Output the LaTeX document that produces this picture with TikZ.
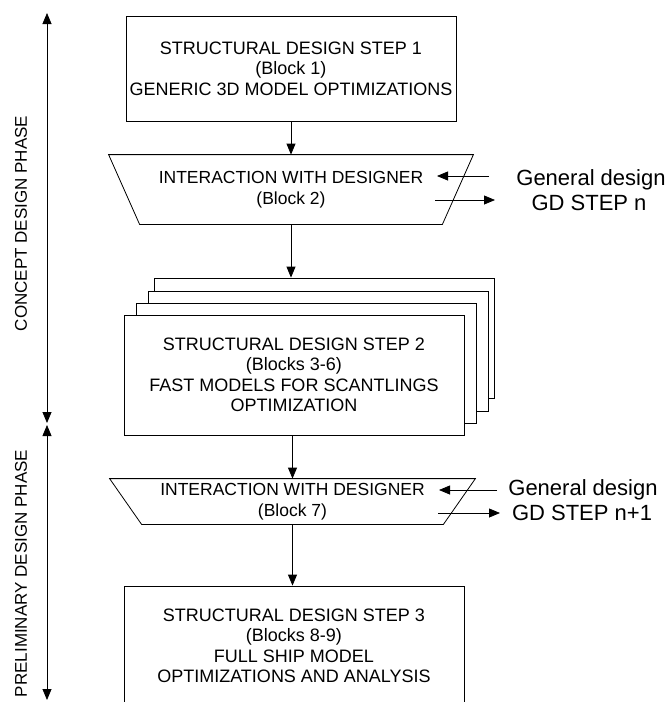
\documentclass[tikz,border=0pt]{standalone}
\usepackage{fontspec}
\setmainfont{Liberation Sans}
\usepackage{tikz}
\usetikzlibrary{positioning}
\usetikzlibrary{calc,arrows.meta}

\begin{document}
\begin{tikzpicture}[x=1pt,y=-1pt,->,>={Triangle[width=9pt,length=11pt]},line width=.8pt,
  block node/.style={rectangle,draw,fill=white,minimum width=340pt,minimum height=120pt,inner sep=0pt,align=center,font=\fontsize{18}{20.5}\selectfont},
  inter node/.style={rectangle,inner sep=0pt,align=center,font=\fontsize{17.5}{21}\selectfont},
  gd node/.style={inner sep=0pt,anchor=base,font=\fontsize{22}{25}\selectfont},
  phase node/.style={rotate=90,inner sep=0pt,font=\fontsize{17}{20}\selectfont}]
\useasboundingbox (0,0) rectangle (667,702);
% phases
\coordinate (Ctop) at (47,13);
\coordinate (Cbot) at (47,423);
\coordinate (Ptop) at (47,425);
\coordinate (Pbot) at (47,700);
\draw[<->] (Ctop) -- (Cbot);
\draw[<->] (Ptop) -- (Pbot);
\node[phase node] at (21,223.5) (Concept) {CONCEPT DESIGN PHASE};
\node[phase node] at (21,573.5) (Prelim) {PRELIMINARY DESIGN PHASE};
% blocks
\node[block node,minimum width=330pt,minimum height=105pt] at (291,68.5) (Sone) {STRUCTURAL DESIGN STEP 1\\(Block 1)\\GENERIC 3D MODEL OPTIMIZATIONS};
\node[inter node,minimum width=302pt,minimum height=69pt] at (291,189.5) (Ione) {INTERACTION WITH DESIGNER\\(Block 2)};
\draw[-] (Ione.south west) -- (Ione.south east) -- ($(Ione.north east)+(31,0)$) -- ($(Ione.north west)+(-31,0)$) -- cycle;
\node[block node] at (324,338) (SheetC) {};
\node[block node] at (318,351) (SheetB) {};
\node[block node] at (306,363) (SheetA) {};
\node[block node] at (294,375) (Stwo) {STRUCTURAL DESIGN STEP 2\\(Blocks 3-6)\\FAST MODELS FOR SCANTLINGS\\OPTIMIZATION};
\node[inter node,minimum width=301pt,minimum height=45pt] at (292.5,501.5) (Itwo) {INTERACTION WITH DESIGNER\\(Block 7)};
\draw[-] (Itwo.south west) -- (Itwo.south east) -- ($(Itwo.north east)+(32,0)$) -- ($(Itwo.north west)+(-32,0)$) -- cycle;
\node[block node] at (294,646) (Sthree) {STRUCTURAL DESIGN STEP 3\\(Blocks 8-9)\\FULL SHIP MODEL\\OPTIMIZATIONS AND ANALYSIS};
% general design
\node[gd node] at (591,185) (GDone) {General design};
\node[gd node] at (589,210) (GDstepone) {GD STEP n};
\node[gd node] at (583,495) (GDtwo) {General design};
\node[gd node] at (582,520) (GDsteptwo) {GD STEP n+1};
\coordinate (GDinone) at (489,176);
\coordinate (Ininone) at (437,176);
\coordinate (Outone) at (435,200);
\coordinate (GDoutone) at (495,200);
\coordinate (GDintwo) at (497,490);
\coordinate (Inintwo) at (439,490);
\coordinate (Outtwo) at (438,513);
\coordinate (GDouttwo) at (500,513);
% connectors
\draw (Sone.south) -- (Ione.north);
\draw (Ione.south) -- (Ione.south |- SheetC.north);
\draw (Itwo.north |- Stwo.south) -- (Itwo.north);
\draw (Itwo.south) -- (Itwo.south |- Sthree.north);
\draw (GDinone) -- (Ininone);
\draw (Outone) -- (GDoutone);
\draw (GDintwo) -- (Inintwo);
\draw (Outtwo) -- (GDouttwo);
\end{tikzpicture}
\end{document}
